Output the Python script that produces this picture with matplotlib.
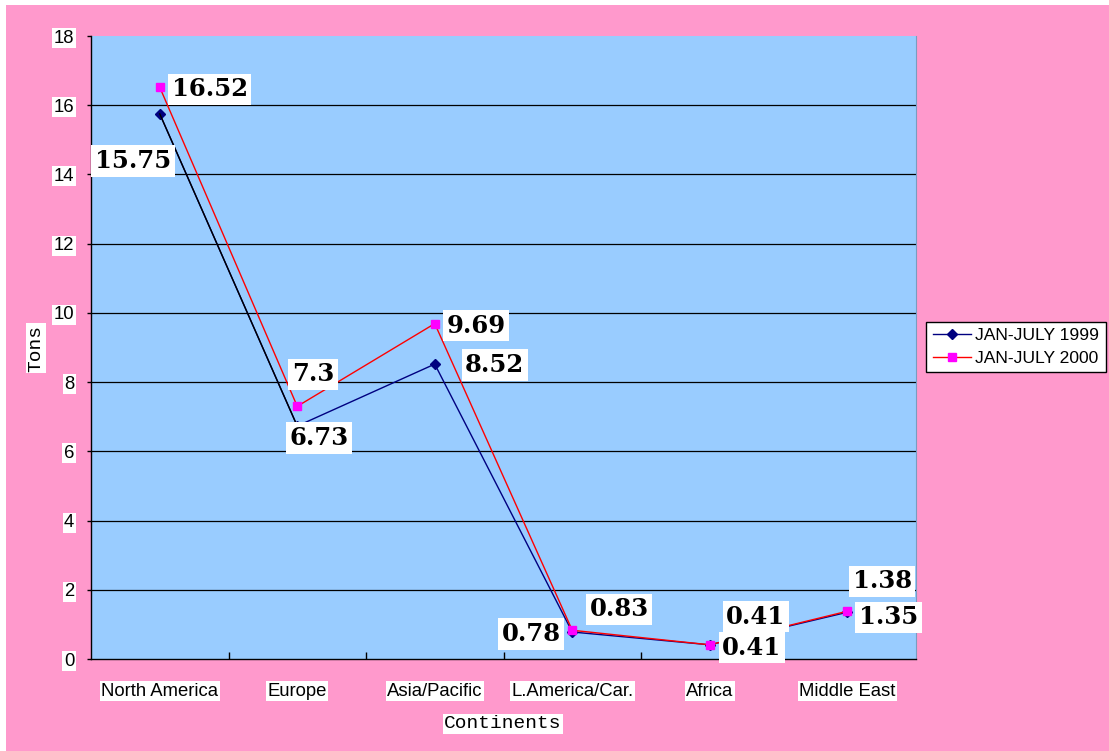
import matplotlib
matplotlib.use("Agg")
import matplotlib.pyplot as plt
from matplotlib.patches import Rectangle

categories = ["North America", "Europe", "Asia/Pacific", "L.America/Car.", "Africa", "Middle East"]
values_1999 = [15.75, 6.73, 8.52, 0.78, 0.41, 1.35]
values_2000 = [16.52, 7.3, 9.69, 0.83, 0.41, 1.38]
labels_1999 = ["15.75", "6.73", "8.52", "0.78", "0.41", "1.35"]
labels_2000 = ["16.52", "7.3", "9.69", "0.83", "0.41", "1.38"]
series_names = ["JAN-JULY 1999", "JAN-JULY 2000"]
yticks = [0, 2, 4, 6, 8, 10, 12, 14, 16, 18]

# label offsets in pixels (layout only)
off_1999 = [(-27, -47), (22, -12), (60, -1), (-41, -2), (42, -3), (41, -5)]
off_2000 = [(50, -2), (16, 32), (41, -2), (47, 21), (46, 28), (35, 30)]

PINK = "#FF99CC"
BLUE = "#99CCFF"

fig = plt.figure(figsize=(11.09, 7.51), dpi=100, facecolor=PINK)
# white strips at left and top
fig.patches.append(Rectangle((0, 0), 6 / 1109, 1, transform=fig.transFigure,
                             facecolor="white", edgecolor="none", zorder=-10))
fig.patches.append(Rectangle((0, 1 - 5 / 751), 1, 5 / 751, transform=fig.transFigure,
                             facecolor="white", edgecolor="none", zorder=-10))

ax = fig.add_axes([91 / 1109, 1 - 659 / 751, (916 - 91) / 1109, (659 - 36) / 751])
ax.set_facecolor(BLUE)

x = list(range(len(categories)))
ax.set_xlim(-0.5, len(categories) - 0.5)
ax.set_ylim(0, 18)
ax.set_yticks(yticks)
for yv in yticks[1:-1]:
    ax.axhline(yv, color="black", lw=0.9, zorder=1)

l1, = ax.plot(x, values_1999, color="#000080", lw=1.0, marker="D", markersize=5,
              markerfacecolor="#000080", markeredgecolor="#000080", zorder=3,
              label=series_names[0])
ax.plot(x[:2], values_1999[:2], color="black", lw=1.0, zorder=3)
l2, = ax.plot(x, values_2000, color="#FF0000", lw=1.0, marker="s", markersize=6,
              markerfacecolor="#FF00FF", markeredgecolor="#FF00FF", zorder=4,
              label=series_names[1])

bb = dict(boxstyle="square,pad=0.15", facecolor="white", edgecolor="none")
for i in x:
    ax.annotate(labels_1999[i], xy=(i, values_1999[i]), xytext=off_1999[i],
                textcoords="offset pixels", ha="center", va="center",
                fontfamily="DejaVu Serif", fontweight="bold", fontsize=17.5,
                bbox=bb, zorder=6, annotation_clip=False)
    ax.annotate(labels_2000[i], xy=(i, values_2000[i]), xytext=off_2000[i],
                textcoords="offset pixels", ha="center", va="center",
                fontfamily="DejaVu Serif", fontweight="bold", fontsize=17.5,
                bbox=bb, zorder=6, annotation_clip=False)

# spines
ax.spines["top"].set_visible(False)
ax.spines["right"].set_color("#7a9cc0")
ax.spines["right"].set_linewidth(0.8)
ax.spines["left"].set_color("black")
ax.spines["bottom"].set_color("black")
ax.spines["left"].set_linewidth(1.0)
ax.spines["bottom"].set_linewidth(1.0)

# x ticks: labels at categories, marks at boundaries
ax.set_xticks(x)
ax.set_xticklabels(categories, fontfamily="Liberation Sans", fontsize=13.3)
ax.set_xticks([i + 0.5 for i in x[:-1]], minor=True)
ax.tick_params(axis="x", which="major", length=0, pad=17)
ax.tick_params(axis="x", which="minor", direction="in", length=5, width=1, color="black")
ax.tick_params(axis="y", which="major", direction="out", length=3, width=1, pad=9,
               labelsize=13.3)
for lbl in ax.get_yticklabels():
    lbl.set_fontfamily("Liberation Sans")
lbl_bb = dict(facecolor="white", edgecolor="none", pad=1)
for lbl in ax.get_xticklabels() + ax.get_yticklabels():
    lbl.set_bbox(lbl_bb)

fig.text(503 / 1109, 1 - 724 / 751, "Continents", ha="center", va="center",
         fontfamily="Liberation Mono", fontsize=14,
         bbox=dict(facecolor="white", edgecolor="none", pad=1))
fig.text(36 / 1109, 1 - 348 / 751, "Tons", ha="center", va="center", rotation=90,
         fontfamily="Liberation Mono", fontsize=14,
         bbox=dict(facecolor="white", edgecolor="none", pad=1))

leg = fig.legend(handles=[l1, l2], labels=series_names, loc="center",
                 bbox_to_anchor=(1016 / 1109, 1 - 347 / 751),
                 prop={"family": "Liberation Sans", "size": 12.6},
                 frameon=True, fancybox=False, edgecolor="black", framealpha=1,
                 handlelength=2.2, handletextpad=0.25, borderpad=0.35,
                 labelspacing=0.45, borderaxespad=0)
leg.get_frame().set_linewidth(1.0)

fig.savefig("out.png", dpi=100, facecolor=PINK)
